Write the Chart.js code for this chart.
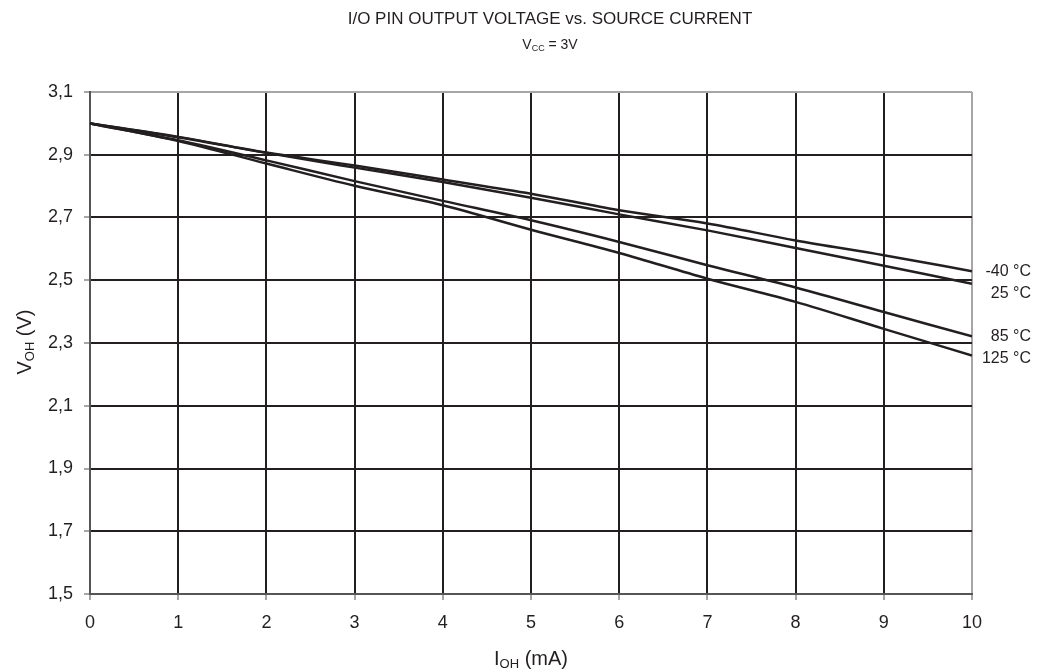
<!DOCTYPE html>
<html>
<head>
<meta charset="utf-8">
<script src="https://cdn.jsdelivr.net/npm/chart.js@4/dist/chart.umd.min.js"></script>
<style>
  body { margin: 0; background: #fff; }
  #wrap { width: 1049px; height: 671px; }
</style>
</head>
<body>
<div id="wrap"><canvas id="voltChart" width="1049" height="671"></canvas></div>
<script>
// Source current (mA) and output voltage (V) per temperature
const currents = [0, 1, 2, 3, 4, 5, 6, 7, 8, 9, 10];
const vohM40 = [3.0, 2.957, 2.907, 2.866, 2.821, 2.776, 2.723, 2.681, 2.627, 2.580, 2.529];
const voh25 = [3.0, 2.956, 2.906, 2.859, 2.813, 2.763, 2.710, 2.659, 2.603, 2.546, 2.489];
const voh85 = [3.0, 2.946, 2.882, 2.816, 2.753, 2.691, 2.622, 2.548, 2.477, 2.399, 2.321];
const voh125 = [3.0, 2.944, 2.872, 2.801, 2.739, 2.661, 2.587, 2.505, 2.431, 2.345, 2.260];
const tempLabels = ['-40 °C', '25 °C', '85 °C', '125 °C'];

const ink = '#231f20';
const fontFamily = '"Liberation Sans", Arial, sans-serif';

function toPoints(values) {
    return currents.map((c, i) => ({ x: c, y: values[i] }));
}

// Draw text with subscript parts: [[text, isSub], ...]
function drawSubText(ctx, parts, x, y, size, subSize) {
    let total = 0;
    parts.forEach(p => {
        ctx.font = (p[1] ? subSize : size) + 'px ' + fontFamily;
        total += ctx.measureText(p[0]).width;
    });
    let cx = x - total / 2;
    ctx.textAlign = 'left';
    ctx.textBaseline = 'middle';
    parts.forEach(p => {
        ctx.font = (p[1] ? subSize : size) + 'px ' + fontFamily;
        ctx.fillText(p[0], cx, p[1] ? y + size * 0.28 : y);
        cx += ctx.measureText(p[0]).width;
    });
}

const annotations = {
    id: 'annotations',
    afterDraw(chart) {
        const ctx = chart.ctx;
        ctx.save();
        ctx.fillStyle = ink;

        // titles
        ctx.font = '17px ' + fontFamily;
        ctx.textAlign = 'center';
        ctx.textBaseline = 'middle';
        ctx.fillText('I/O PIN OUTPUT VOLTAGE vs. SOURCE CURRENT', 550, 19);
        drawSubText(ctx, [['V', false], ['CC', true], [' = 3V', false]], 550, 45, 14, 9);

        // axis titles
        drawSubText(ctx, [['I', false], ['OH', true], [' (mA)', false]], 531, 659, 20, 13);
        ctx.save();
        ctx.translate(25, 342);
        ctx.rotate(-Math.PI / 2);
        drawSubText(ctx, [['V', false], ['OH', true], [' (V)', false]], 0, 0, 20, 13);
        ctx.restore();

        // series labels at the right end
        ctx.font = '16px ' + fontFamily;
        ctx.textAlign = 'right';
        ctx.textBaseline = 'middle';
        let prevY = -100;
        chart.data.datasets.forEach((ds, i) => {
            const meta = chart.getDatasetMeta(i);
            const last = meta.data[meta.data.length - 1];
            let y = last.y;
            if (y - prevY < 20) y = prevY + 22;
            ctx.fillText(tempLabels[i], 1031, y);
            prevY = y;
        });
        ctx.restore();
    }
};

const lineStyle = {
    borderColor: ink,
    borderWidth: 2.5,
    pointRadius: 0,
    fill: false,
    cubicInterpolationMode: 'monotone'
};

const ctx = document.getElementById('voltChart').getContext('2d');
const voltChart = new Chart(ctx, {
    type: 'line',
    data: {
        datasets: [
            { label: tempLabels[0], data: toPoints(vohM40), ...lineStyle },
            { label: tempLabels[1], data: toPoints(voh25), ...lineStyle },
            { label: tempLabels[2], data: toPoints(voh85), ...lineStyle },
            { label: tempLabels[3], data: toPoints(voh125), ...lineStyle }
        ]
    },
    options: {
        responsive: false,
        animation: false,
        layout: {
            padding: { top: 92, right: 77, bottom: 0, left: 0 }
        },
        plugins: {
            legend: { display: false },
            tooltip: { enabled: false }
        },
        scales: {
            x: {
                type: 'linear',
                min: 0,
                max: 10,
                afterFit: scale => { scale.height = 77; },
                ticks: {
                    stepSize: 1,
                    padding: 12,
                    color: ink,
                    font: { family: fontFamily, size: 18 }
                },
                grid: {
                    color: c => c.tick && c.tick.value === 10 ? '#a6a6a6' : (c.tick && c.tick.value === 0 ? '#555' : ink),
                    lineWidth: 2,
                    tickLength: 6,
                    tickColor: '#888',
                    tickWidth: 1.5
                },
                border: { color: '#555', width: 2 }
            },
            y: {
                min: 1.5,
                max: 3.1,
                afterFit: scale => { scale.width = 90; },
                ticks: {
                    stepSize: 0.2,
                    padding: 11,
                    color: ink,
                    font: { family: fontFamily, size: 18 },
                    callback: v => v.toFixed(1).replace('.', ',')
                },
                grid: {
                    color: c => c.tick && Math.abs(c.tick.value - 3.1) < 1e-6 ? '#a6a6a6' : (c.tick && Math.abs(c.tick.value - 1.5) < 1e-6 ? '#555' : ink),
                    lineWidth: 2,
                    tickLength: 6,
                    tickColor: '#888',
                    tickWidth: 1.5
                },
                border: { color: '#555', width: 2 }
            }
        }
    },
    plugins: [annotations]
});
</script>
</body>
</html>
